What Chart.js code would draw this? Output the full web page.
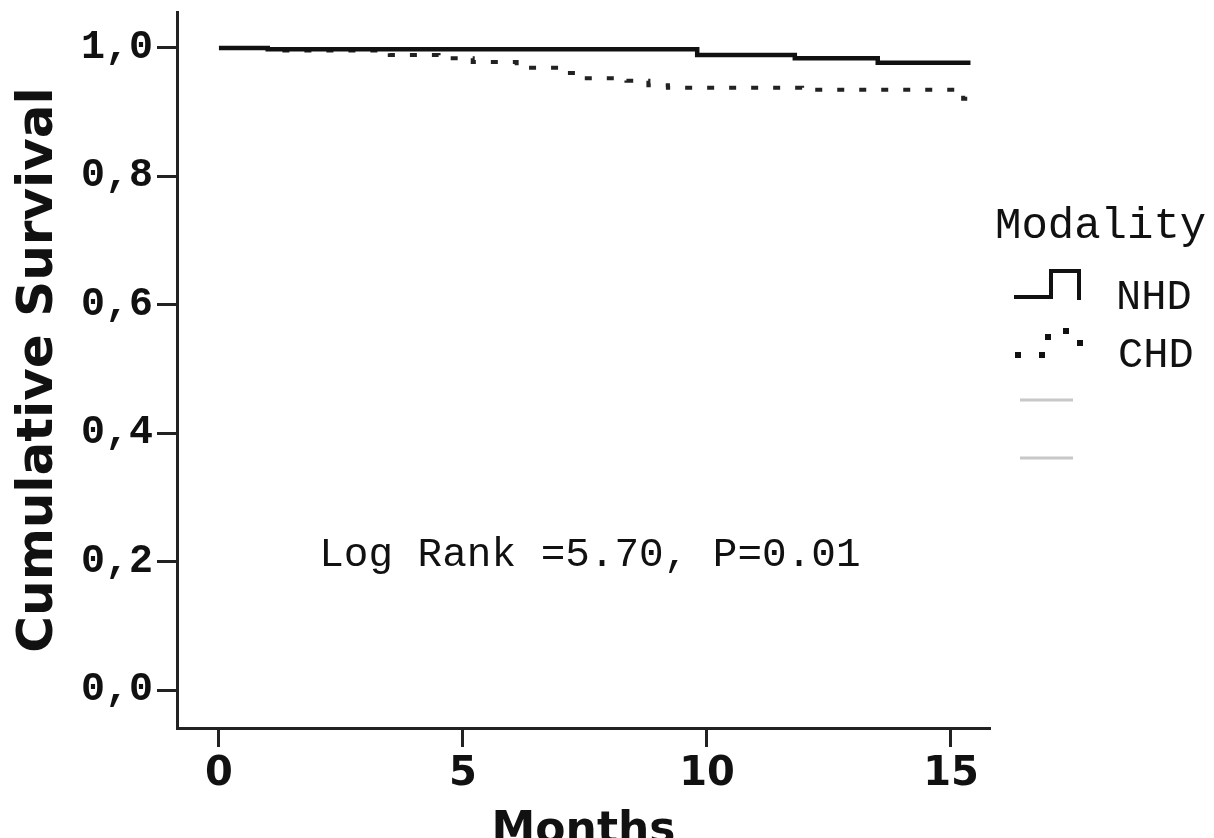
<!DOCTYPE html>
<html lang="en">
<head>
<meta charset="UTF-8">
<title>Cumulative Survival by Modality</title>
<script src="https://cdn.jsdelivr.net/npm/chart.js"></script>
<style>
    html, body { margin: 0; padding: 0; background: #fff; }
    #wrap { width: 1214px; height: 838px; }
</style>
</head>
<body>
<div id="wrap"><canvas id="kmChart" width="1214" height="838"></canvas></div>
<script>
    // Kaplan-Meier steps: month of each drop, survival after it
    const nhdMonths   = [0, 1.0, 9.8, 11.8, 13.5, 15.4];
    const nhdSurvival = [1.0, 0.998, 0.989, 0.984, 0.977, 0.977];

    const chdMonths   = [0, 1.0, 3.5, 4.5, 5.2, 6.1, 7.0, 7.4, 8.35, 8.8, 9.2, 11.95, 15.25, 15.45];
    const chdSurvival = [1.0, 0.996, 0.989, 0.984, 0.978, 0.969, 0.961, 0.953, 0.949, 0.942, 0.938, 0.935, 0.921, 0.921];

    const xTicks = [0, 5, 10, 15];
    const yTicks = [0, 0.2, 0.4, 0.6, 0.8, 1.0];
    const yTickLabels = ['0,0', '0,2', '0,4', '0,6', '0,8', '1,0'];

    const legendTitle = 'Modality';
    const legendLabels = ['NHD', 'CHD'];
    const logRankText = 'Log Rank =5.70, P=0.01';

    const ink = '#111';

    // legend on the right and the log rank note
    const extras = {
        id: 'extras',
        afterDraw(chart) {
            const ctx = chart.ctx;
            const { x, y } = chart.scales;
            ctx.save();
            ctx.fillStyle = ink;
            ctx.textBaseline = 'middle';

            ctx.textAlign = 'center';
            ctx.font = '41px "Liberation Mono"';
            ctx.fillText(logRankText, x.getPixelForValue(7.6), y.getPixelForValue(0.21));

            ctx.textAlign = 'left';
            ctx.font = '44px "Liberation Mono"';
            ctx.fillText(legendTitle, 995, 226);
            ctx.font = '42px "Liberation Mono"';
            ctx.fillText(legendLabels[0], 1116, 298);
            ctx.fillText(legendLabels[1], 1118, 356);

            // NHD step symbol
            ctx.strokeStyle = ink;
            ctx.lineWidth = 4;
            ctx.beginPath();
            ctx.moveTo(1014, 297);
            ctx.lineTo(1051, 297);
            ctx.lineTo(1051, 271);
            ctx.lineTo(1079, 271);
            ctx.lineTo(1079, 300);
            ctx.stroke();

            // CHD dotted symbol
            [[1018, 355], [1042, 355], [1048, 337], [1066, 331], [1080, 343]].forEach(p => {
                ctx.fillRect(p[0] - 3, p[1] - 3, 6, 6);
            });

            // two empty entries
            ctx.strokeStyle = '#c8c8c8';
            ctx.lineWidth = 3;
            [400, 458].forEach(ly => {
                ctx.beginPath();
                ctx.moveTo(1020, ly);
                ctx.lineTo(1073, ly);
                ctx.stroke();
            });
            ctx.restore();
        }
    };

    const axisGrid = {
        drawOnChartArea: false,
        drawTicks: true,
        tickWidth: 3,
        color: '#222'
    };

    new Chart(document.getElementById('kmChart'), {
        type: 'line',
        data: {
            datasets: [
                {
                    label: legendLabels[0],
                    data: nhdMonths.map((m, i) => ({ x: m, y: nhdSurvival[i] })),
                    stepped: true,
                    borderColor: ink,
                    borderWidth: 4.5,
                    pointRadius: 0,
                    fill: false
                },
                {
                    label: legendLabels[1],
                    data: chdMonths.map((m, i) => ({ x: m, y: chdSurvival[i] })),
                    stepped: true,
                    borderColor: '#222',
                    borderWidth: 4,
                    borderDash: [7, 15],
                    borderCapStyle: 'butt',
                    pointRadius: 0,
                    fill: false
                }
            ]
        },
        options: {
            responsive: false,
            animation: false,
            devicePixelRatio: 1,
            layout: { padding: { top: 12, right: 224, left: 0, bottom: 0 } },
            plugins: {
                legend: { display: false },
                tooltip: { enabled: false }
            },
            scales: {
                x: {
                    type: 'linear',
                    min: -0.86,
                    max: 15.8,
                    afterBuildTicks: s => { s.ticks = xTicks.map(v => ({ value: v })); },
                    afterFit: s => { s.height = 110; s.paddingLeft = 0; s.paddingRight = 0; },
                    ticks: {
                        autoSkip: false,
                        maxRotation: 0,
                        padding: 4,
                        color: ink,
                        font: { family: 'DejaVu Sans', size: 40, weight: 'bold' }
                    },
                    grid: Object.assign({ tickLength: 19 }, axisGrid),
                    border: { display: true, color: '#222', width: 3 },
                    title: {
                        display: true,
                        text: 'Months',
                        color: ink,
                        padding: { top: 0, bottom: -7 },
                        font: { family: 'DejaVu Sans', size: 44, weight: 'bold', lineHeight: 0.6 }
                    }
                },
                y: {
                    min: -0.059,
                    max: 1.056,
                    afterBuildTicks: s => { s.ticks = yTicks.map(v => ({ value: v })); },
                    afterFit: s => { s.width = 177; s.paddingTop = 0; s.paddingBottom = 0; },
                    ticks: {
                        padding: 4,
                        color: ink,
                        callback: (v, i) => yTickLabels[i],
                        font: { family: 'Liberation Mono', size: 40, weight: 'bold' }
                    },
                    grid: Object.assign({ tickLength: 20 }, axisGrid),
                    border: { display: true, color: '#222', width: 3 },
                    title: {
                        display: true,
                        text: 'Cumulative Survival',
                        color: ink,
                        padding: { top: 9, bottom: 0 },
                        font: { family: 'DejaVu Sans', size: 50, weight: 'bold' }
                    }
                }
            }
        },
        plugins: [extras]
    });
</script>
</body>
</html>
